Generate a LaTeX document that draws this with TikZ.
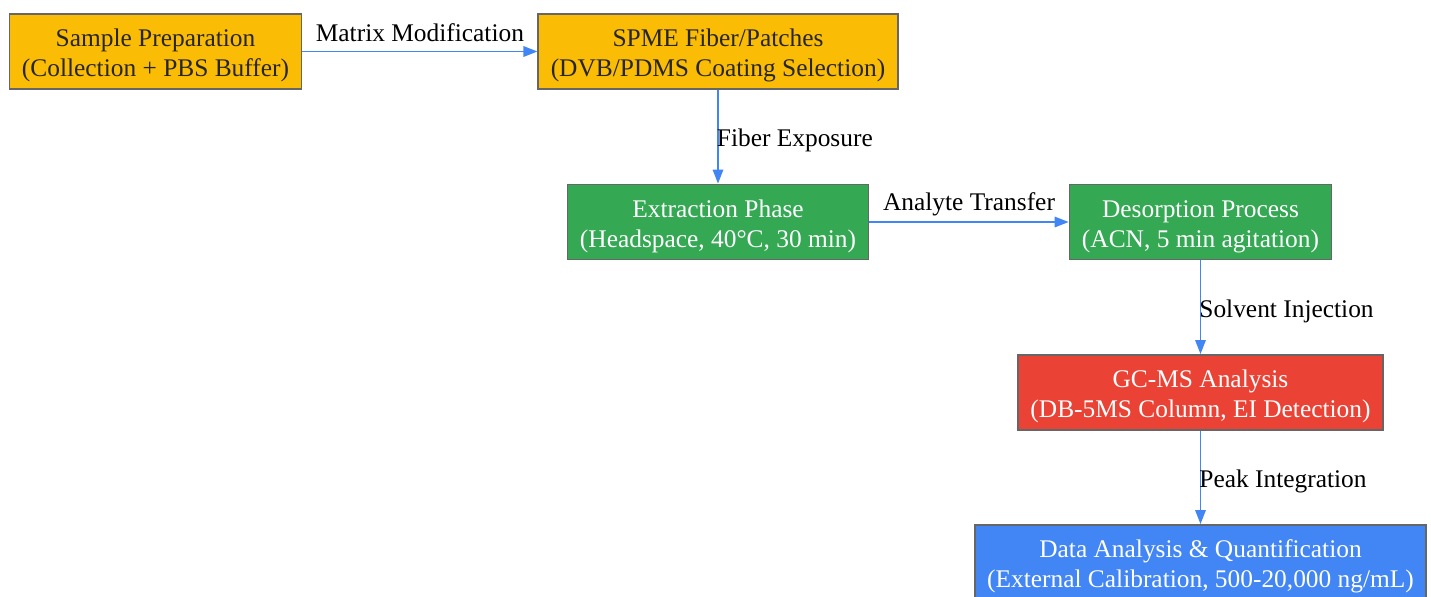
\documentclass[tikz,border=0pt]{standalone}
\usepackage{fontspec}
\setmainfont{Liberation Serif}
\usetikzlibrary{arrows.meta}
\definecolor{stepyellow}{HTML}{FBBC05}
\definecolor{stepgreen}{HTML}{34A853}
\definecolor{stepred}{HTML}{EA4335}
\definecolor{stepblue}{HTML}{4285F4}
\definecolor{edgeblue}{HTML}{4285F4}
\definecolor{rimgray}{HTML}{666666}
\begin{document}
\begin{tikzpicture}[x=0.5pt, y=-0.5pt,
		every node/.style={font=\fontsize{12.7}{15}\selectfont},
		stepbox/.style={draw=rimgray, line width=0.9pt, align=center,
			minimum height=37.5pt, inner xsep=6.2pt, inner ysep=2pt,
			text height=28pt, text depth=3pt},
		flow/.style={draw=edgeblue, line width=0.9pt,
			-{Triangle[length=7pt, width=5.2pt]}},
		flowlabel/.style={text=black, inner sep=0pt}]
		\useasboundingbox (0, 0) rectangle (1431, 596);
		\path (155.5, 51.5) node (Sample)
			[stepbox, fill=stepyellow, text=black!85]
				{Sample Preparation\\(Collection + PBS Buffer)};
		\path (718, 51.5) node (Fiber)
			[stepbox, fill=stepyellow, text=black!85]
				{SPME Fiber/Patches\\(DVB/PDMS Coating Selection)};
		\path (718, 222) node (Extraction)
			[stepbox, fill=stepgreen, text=white]
				{Extraction Phase\\(Headspace, 40°C, 30 min)};
		\path (1200.5, 222) node (Desorption)
			[stepbox, fill=stepgreen, text=white]
				{Desorption Process\\(ACN, 5 min agitation)};
		\path (1200.5, 392.5) node (GCMS)
			[stepbox, fill=stepred, text=white]
				{GC-MS Analysis\\(DB-5MS Column, EI Detection)};
		\path (1200.5, 562.5) node (Data)
			[stepbox, fill=stepblue, text=white]
				{Data Analysis \& Quantification\\(External Calibration, 500-20,000 ng/mL)};
		\draw[flow] (Sample) -- (Fiber)
			node[flowlabel, midway, yshift=9.5pt] {Matrix Modification};
		\draw[flow] (Fiber) -- (Extraction)
			node[flowlabel, midway, anchor=west, xshift=-1pt, yshift=-2pt] {Fiber Exposure};
		\draw[flow] (Extraction) -- (Desorption)
			node[flowlabel, midway, yshift=9pt] {Analyte Transfer};
		\draw[flow] (Desorption) -- (GCMS)
			node[flowlabel, midway, anchor=west, xshift=-1pt, yshift=-2pt] {Solvent Injection};
		\draw[flow] (GCMS) -- (Data)
			node[flowlabel, midway, anchor=west, xshift=-1pt, yshift=-2pt] {Peak Integration};
	\end{tikzpicture}
\end{document}
